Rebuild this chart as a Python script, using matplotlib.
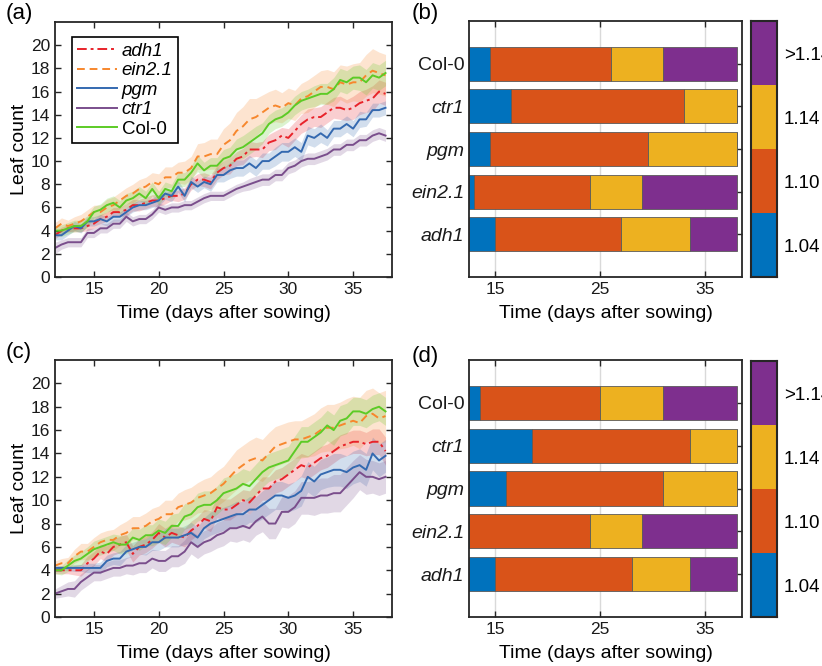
import numpy as np
import matplotlib
matplotlib.use("Agg")
import matplotlib.pyplot as plt
from matplotlib.colors import ListedColormap

plt.rcParams['font.family'] = ['Liberation Sans', 'DejaVu Sans']
plt.rcParams['font.size'] = 12

# ---------------- data ----------------
days = np.arange(12, 38, 0.5)   # sampling grid, 12 .. 37.5 days

# panel (a) means
adh1_a = [3.6, 4.0, 4.2, 4.2, 4.2, 4.4, 4.6, 5.0, 5.2, 5.6,
          5.6, 5.8, 6.2, 6.2, 6.4, 6.6, 6.6, 6.8, 7.0, 7.0,
          7.2, 8.0, 8.4, 8.4, 8.2, 9.0, 9.4, 9.6, 10.2, 10.4,
          11.0, 11.0, 11.0, 11.6, 11.8, 12.2, 12.0, 12.6, 13.2, 13.6,
          13.8, 13.8, 14.2, 14.6, 14.6, 14.4, 14.6, 15.0, 15.2, 15.4,
          16.0, 15.8]
ein_a = [4.2, 4.6, 4.4, 4.6, 4.8, 5.2, 5.6, 5.6, 6.0, 6.2,
         6.6, 7.0, 7.2, 7.6, 7.8, 8.2, 8.0, 8.6, 8.6, 9.0,
         9.0, 9.4, 10.4, 10.4, 10.6, 10.6, 11.4, 11.8, 12.6, 13.0,
         13.6, 13.8, 14.2, 14.6, 14.8, 14.6, 15.0, 14.8, 15.4, 15.6,
         16.0, 16.4, 16.4, 16.2, 16.8, 16.6, 16.8, 16.8, 17.4, 17.8,
         17.6, 17.4]
pgm_a = [3.6, 3.6, 4.0, 4.4, 4.2, 4.8, 4.8, 5.0, 4.8, 5.2,
         5.2, 5.6, 6.0, 6.2, 6.2, 6.4, 6.6, 7.2, 7.0, 7.8,
         7.0, 8.2, 7.8, 8.2, 8.0, 8.8, 8.8, 9.2, 9.4, 9.4,
         9.8, 9.4, 10.0, 10.0, 10.4, 10.8, 10.8, 11.2, 10.8, 12.2,
         12.0, 12.4, 12.0, 12.8, 12.8, 13.2, 12.8, 13.6, 13.6, 14.4,
         14.4, 14.6]
ctr1_a = [2.5, 2.8, 3.0, 3.0, 3.0, 3.8, 3.8, 4.2, 4.2, 4.6,
          4.6, 5.2, 4.8, 5.0, 5.0, 5.4, 6.0, 5.8, 6.0, 6.0,
          6.2, 6.2, 6.5, 6.8, 7.0, 7.0, 7.0, 7.3, 7.6, 7.8,
          8.0, 8.2, 8.4, 8.4, 8.8, 8.8, 9.4, 9.6, 10.0, 10.2,
          10.2, 10.4, 10.6, 11.0, 11.0, 11.4, 11.4, 11.8, 11.8, 12.2,
          12.4, 12.2]
col_a = [4.0, 4.0, 4.2, 4.4, 4.4, 4.8, 5.6, 5.8, 6.2, 6.4,
         6.0, 6.6, 6.8, 7.2, 6.8, 7.6, 6.8, 7.6, 7.4, 8.4,
         8.4, 9.0, 9.8, 9.2, 9.6, 9.6, 10.2, 10.4, 11.0, 11.2,
         11.6, 12.0, 12.4, 13.2, 13.6, 13.8, 14.2, 14.8, 15.2, 15.4,
         15.6, 15.8, 15.8, 16.2, 17.0, 16.8, 17.2, 17.2, 16.8, 17.4,
         17.2, 17.6]

# panel (a) band half-widths
sd_adh1_a = [0.3, 0.3, 0.3, 0.3, 0.3, 0.4, 0.4, 0.4, 0.4, 0.4,
             0.4, 0.5, 0.5, 0.5, 0.5, 0.5, 0.5, 0.5, 0.4, 0.5,
             0.5, 0.5, 0.5, 0.6, 0.6, 0.6, 0.6, 0.7, 0.6, 0.7,
             0.7, 0.6, 0.7, 0.7, 0.8, 0.7, 0.8, 0.8, 0.8, 0.9,
             0.8, 0.9, 0.9, 0.9, 1.0, 0.9, 1.0, 1.0, 1.0, 1.1,
             1.0, 1.0]
sd_ein_a = [0.5, 0.5, 0.5, 0.6, 0.6, 0.6, 0.6, 0.6, 0.7, 0.7,
            0.7, 0.7, 0.8, 0.8, 0.8, 0.8, 0.9, 0.9, 0.9, 0.9,
            1.0, 1.0, 1.1, 1.2, 1.3, 1.3, 1.4, 1.5, 1.6, 1.7,
            1.8, 1.6, 1.5, 1.4, 1.4, 1.3, 1.3, 1.3, 1.3, 1.4,
            1.4, 1.4, 1.5, 1.5, 1.5, 1.6, 1.6, 1.7, 1.8, 1.9,
            1.8, 1.8]
sd_pgm_a = [0.4, 0.4, 0.4, 0.4, 0.4, 0.4, 0.4, 0.4, 0.4, 0.4,
            0.4, 0.4, 0.4, 0.4, 0.4, 0.4, 0.5, 0.5, 0.5, 0.5,
            0.5, 0.5, 0.5, 0.5, 0.6, 0.6, 0.6, 0.7, 0.7, 0.7,
            0.7, 0.7, 0.7, 0.7, 0.8, 0.8, 0.8, 0.8, 0.8, 0.8,
            0.8, 0.8, 0.7, 0.7, 0.7, 0.7, 0.7, 0.7, 0.6, 0.6,
            0.6, 0.6]
sd_ctr1_a = [0.5, 0.4, 0.4, 0.4, 0.4, 0.4, 0.4, 0.4, 0.4, 0.4,
             0.4, 0.4, 0.4, 0.4, 0.4, 0.4, 0.4, 0.4, 0.4, 0.4,
             0.4, 0.4, 0.4, 0.4, 0.4, 0.4, 0.4, 0.4, 0.4, 0.4,
             0.5, 0.5, 0.5, 0.5, 0.5, 0.5, 0.5, 0.5, 0.5, 0.5,
             0.5, 0.5, 0.5, 0.5, 0.5, 0.5, 0.5, 0.5, 0.5, 0.5,
             0.5, 0.5]
sd_col_a = [0.4, 0.5, 0.5, 0.5, 0.5, 0.5, 0.5, 0.5, 0.6, 0.6,
            0.6, 0.6, 0.6, 0.6, 0.6, 0.6, 0.6, 0.6, 0.6, 0.6,
            0.6, 0.6, 0.7, 0.7, 0.7, 0.7, 0.8, 0.8, 0.9, 1.0,
            1.0, 1.0, 0.9, 0.8, 0.8, 0.8, 0.8, 0.8, 0.8, 0.8,
            0.9, 0.9, 0.9, 1.0, 1.0, 1.0, 1.0, 1.1, 1.1, 1.1,
            1.1, 1.1]

# panel (c) means
adh1_c = [4.0, 4.0, 4.0, 4.0, 4.0, 4.6, 5.0, 5.6, 5.4, 6.0,
          6.2, 6.4, 5.4, 6.0, 6.2, 6.6, 7.2, 6.8, 7.2, 7.0,
          6.8, 7.4, 7.8, 8.4, 8.2, 9.4, 9.2, 9.2, 9.6, 10.0,
          9.8, 10.4, 11.0, 11.0, 11.6, 11.8, 12.2, 12.6, 13.0, 12.8,
          13.2, 13.6, 13.8, 14.2, 14.6, 14.8, 15.0, 15.0, 14.8, 15.0,
          15.0, 14.2]
ein_c = [4.4, 4.6, 4.6, 5.2, 5.6, 5.6, 6.0, 6.4, 6.6, 6.6,
         7.0, 7.2, 7.6, 7.6, 7.8, 8.2, 8.4, 8.8, 8.8, 9.4,
         9.6, 9.8, 10.2, 10.4, 10.6, 11.0, 11.4, 12.0, 12.6, 13.0,
         13.4, 13.6, 13.4, 14.0, 14.6, 14.8, 15.0, 15.2, 15.2, 15.4,
         15.6, 16.0, 16.2, 16.2, 16.4, 16.6, 16.8, 16.6, 17.2, 17.4,
         17.0, 17.2]
pgm_c = [4.2, 4.2, 4.2, 4.2, 4.2, 4.2, 4.2, 4.2, 4.8, 5.0,
         5.0, 5.6, 5.8, 6.0, 6.0, 6.4, 6.4, 6.8, 6.8, 6.8,
         7.0, 7.2, 6.8, 7.6, 8.0, 8.2, 8.4, 8.6, 8.8, 8.8,
         9.2, 9.2, 9.6, 10.0, 10.4, 10.4, 10.2, 10.4, 10.8, 12.0,
         11.6, 12.2, 12.4, 12.6, 12.6, 12.4, 12.8, 13.0, 12.6, 14.0,
         13.4, 13.8]
ctr1_c = [2.0, 2.2, 2.4, 2.4, 3.0, 3.4, 3.8, 3.8, 4.0, 4.2,
          4.2, 4.4, 4.4, 4.6, 4.6, 5.0, 4.8, 4.8, 5.2, 5.2,
          5.6, 6.4, 6.0, 6.4, 6.6, 7.0, 7.2, 7.6, 7.6, 7.8,
          7.6, 8.2, 8.6, 8.0, 8.0, 9.0, 9.0, 9.4, 10.2, 10.2,
          10.2, 10.4, 10.4, 10.6, 10.6, 11.2, 11.8, 12.4, 12.0, 12.0,
          11.8, 12.0]
col_c = [4.0, 4.0, 4.4, 4.8, 5.0, 5.4, 5.8, 6.0, 6.2, 6.4,
         6.2, 6.2, 6.8, 6.6, 7.0, 7.0, 7.4, 7.2, 7.8, 7.8,
         8.6, 8.8, 9.4, 9.6, 9.6, 10.0, 10.6, 10.8, 11.0, 11.4,
         11.2, 11.8, 12.4, 12.8, 13.0, 13.2, 13.4, 14.2, 15.0, 15.0,
         15.4, 15.8, 16.4, 16.0, 16.8, 17.0, 17.6, 17.6, 17.4, 17.8,
         18.0, 17.6]

# panel (c) band half-widths
sd_adh1_c = [0.3, 0.3, 0.3, 0.4, 0.5, 0.6, 0.6, 0.6, 0.7, 0.7,
             0.7, 0.7, 0.7, 0.7, 0.7, 0.7, 0.8, 0.8, 0.8, 0.8,
             0.8, 0.8, 0.8, 0.8, 0.9, 0.9, 0.9, 0.9, 0.9, 0.9,
             1.0, 1.0, 1.0, 1.0, 1.0, 1.0, 1.0, 1.0, 1.0, 1.0,
             1.0, 1.0, 1.0, 1.0, 1.0, 1.0, 1.0, 1.0, 1.0, 1.1,
             1.1, 1.2]
sd_ein_c = [0.4, 0.4, 0.5, 0.6, 0.7, 0.7, 0.8, 0.8, 0.8, 0.9,
            0.9, 1.0, 1.0, 1.0, 1.1, 1.1, 1.1, 1.2, 1.2, 1.2,
            1.3, 1.3, 1.3, 1.4, 1.4, 1.5, 1.5, 1.6, 1.7, 1.7,
            1.7, 1.8, 1.8, 1.8, 1.7, 1.7, 1.7, 1.6, 1.6, 1.7,
            1.8, 1.9, 2.0, 2.0, 2.0, 2.1, 2.1, 2.2, 2.2, 2.2,
            2.2, 2.2]
sd_pgm_c = [0.2, 0.2, 0.2, 0.3, 0.3, 0.4, 0.4, 0.5, 0.5, 0.5,
            0.6, 0.6, 0.6, 0.6, 0.7, 0.7, 0.7, 0.8, 0.8, 0.8,
            0.8, 0.9, 0.9, 0.9, 1.0, 1.0, 1.0, 1.0, 1.1, 1.1,
            1.1, 1.1, 1.2, 1.2, 1.2, 1.2, 1.2, 1.2, 1.3, 1.3,
            1.3, 1.3, 1.3, 1.4, 1.4, 1.4, 1.4, 1.4, 1.4, 1.4,
            1.4, 1.4]
sd_ctr1_c = [0.4, 0.5, 0.6, 0.7, 0.7, 0.7, 0.7, 0.7, 0.7, 0.7,
             0.7, 0.7, 0.8, 0.8, 0.8, 0.8, 0.9, 0.9, 0.9, 0.9,
             1.0, 1.0, 1.0, 1.0, 1.0, 1.1, 1.1, 1.1, 1.2, 1.2,
             1.2, 1.2, 1.3, 1.3, 1.3, 1.3, 1.4, 1.4, 1.4, 1.4,
             1.5, 1.5, 1.5, 1.6, 1.6, 1.6, 1.6, 1.5, 1.5, 1.4,
             1.4, 1.4]
sd_col_c = [0.3, 0.4, 0.5, 0.5, 0.6, 0.6, 0.7, 0.7, 0.7, 0.7,
            0.8, 0.8, 0.8, 0.9, 0.9, 0.9, 1.0, 1.0, 1.0, 1.1,
            1.1, 1.1, 1.2, 1.2, 1.2, 1.2, 1.3, 1.3, 1.3, 1.3,
            1.3, 1.3, 1.3, 1.2, 1.2, 1.2, 1.2, 1.3, 1.3, 1.3,
            1.3, 1.3, 1.3, 1.3, 1.3, 1.3, 1.2, 1.2, 1.2, 1.2,
            1.2, 1.2]

# stage bars: genotypes top -> bottom, end day of each growth-rate stage
genotypes = ['Col-0', 'ctr1', 'pgm', 'ein2.1', 'adh1']
bar_start = 12.5
b_stage_ends = [[14.5, 16.5, 14.5, 13.0, 15.0],    # 1.04
                [26.0, 33.0, 29.5, 24.0, 27.0],    # 1.10
                [31.0, 38.0, 38.0, 29.0, 33.5],    # 1.14
                [38.0, 38.0, 38.0, 38.0, 38.0]]    # >1.14
d_stage_ends = [[13.5, 18.5, 16.0, 12.5, 15.0],
                [25.0, 33.5, 31.0, 24.0, 28.0],
                [31.0, 38.0, 38.0, 29.0, 33.5],
                [38.0, 38.0, 38.0, 38.0, 38.0]]
stage_labels = ['1.04', '1.10', '1.14', '>1.14']
stage_colors = ['#0072BD', '#D95319', '#EDB120', '#7E2F8E']

# ---------------- styling ----------------
series_style = [
    ('adh1',   '#E8232A', (0, (5, 2, 1.5, 2)), True),
    ('ein2.1', '#F7872D', (0, (4, 2.5)),       True),
    ('pgm',    '#3469B0', '-',                 True),
    ('ctr1',   '#7A4E8C', '-',                 True),
    ('Col-0',  '#5CCB26', '-',                 False),
]
axcol = '#262626'


def style_box(ax):
    for s in ax.spines.values():
        s.set_linewidth(1.3)
        s.set_color(axcol)
    ax.tick_params(direction='in', top=True, right=True, length=4,
                   width=1.0, color=axcol, labelsize=12.5, labelcolor='#1a1a1a')


def line_panel(ax, means, sds, legend=False):
    for (name, col, ls, ital), m, sd in zip(series_style, means, sds):
        m = np.array(m)
        sd = np.array(sd)
        ax.fill_between(days, m - sd, m + sd, color=col, alpha=0.22, lw=0)
    handles = []
    for (name, col, ls, ital), m in zip(series_style, means):
        h, = ax.plot(days, m, color=col, ls=ls, lw=1.4, label=name)
        handles.append(h)
    ax.set_xlim(12, 38)
    ax.set_ylim(0, 22)
    ax.set_xticks([15, 20, 25, 30, 35])
    ax.set_yticks(np.arange(0, 21, 2))
    ax.set_xlabel('Time (days after sowing)', fontsize=14, labelpad=6)
    ax.set_ylabel('Leaf count', fontsize=14, labelpad=2)
    style_box(ax)
    if legend:
        leg = ax.legend(handles=handles, loc='upper left',
                        bbox_to_anchor=(0.05, 0.94), fancybox=False,
                        edgecolor='black', framealpha=1, fontsize=13.5,
                        handlelength=2.1, handletextpad=0.25,
                        labelspacing=0.12, borderpad=0.3, borderaxespad=0)
        leg.get_frame().set_linewidth(1.2)
        for t, st in zip(leg.get_texts(), series_style):
            if st[3]:
                t.set_style('italic')


def bar_panel(ax, cax, stage_ends):
    ypos = np.arange(len(genotypes), 0, -1)
    left = np.full(len(genotypes), bar_start)
    for ends, col in zip(stage_ends, stage_colors):
        ends = np.array(ends)
        width = ends - left
        ax.barh(ypos, width, left=left, height=0.8, color=col,
                edgecolor='#5a5a5a', linewidth=0.6, zorder=2)
        left = ends
    ax.set_xlim(12.5, 38.5)
    ax.set_ylim(0, 6)
    ax.set_xticks([15, 25, 35])
    ax.set_yticks(ypos)
    ax.set_yticklabels(genotypes)
    for t in ax.get_yticklabels():
        if t.get_text() != 'Col-0':
            t.set_style('italic')
    ax.grid(axis='x', color='#d9d9d9', lw=1.0, zorder=0)
    ax.set_axisbelow(True)
    ax.set_xlabel('Time (days after sowing)', fontsize=14, labelpad=6)
    style_box(ax)
    ax.tick_params(axis='y', labelsize=14)

    # discrete colour key
    cax.imshow(np.arange(4)[::-1].reshape(-1, 1), aspect='auto',
               cmap=ListedColormap(stage_colors), extent=(0, 1, 0, 4))
    cax.set_xticks([])
    cax.yaxis.tick_right()
    cax.set_yticks(np.arange(4) + 0.5)
    cax.set_yticklabels(stage_labels)
    cax.tick_params(axis='y', length=0, labelsize=13.5, pad=5)
    for s in cax.spines.values():
        s.set_linewidth(1.5)
        s.set_color(axcol)


fig = plt.figure(figsize=(8.22, 6.66), dpi=100)
W, H = 822.0, 666.0


def add(l, t, r, b):
    return fig.add_axes([l / W, 1 - b / H, (r - l) / W, (b - t) / H])


ax_a = add(55, 22, 392, 277)
ax_c = add(55, 360, 392, 617)
ax_b = add(469, 21, 742, 277)
ax_d = add(469, 360, 742, 617)
cax_b = add(751, 21, 777, 277)
cax_d = add(751, 361, 777, 617)

line_panel(ax_a, [adh1_a, ein_a, pgm_a, ctr1_a, col_a],
           [sd_adh1_a, sd_ein_a, sd_pgm_a, sd_ctr1_a, sd_col_a], legend=True)
line_panel(ax_c, [adh1_c, ein_c, pgm_c, ctr1_c, col_c],
           [sd_adh1_c, sd_ein_c, sd_pgm_c, sd_ctr1_c, sd_col_c])
bar_panel(ax_b, cax_b, b_stage_ends)
bar_panel(ax_d, cax_d, d_stage_ends)

for lab, x, y in [('(a)', 6, 3), ('(b)', 412, 3), ('(c)', 6, 342), ('(d)', 412, 346)]:
    fig.text(x / W, 1 - y / H, lab, fontsize=16, ha='left', va='top')

fig.savefig('out.png', dpi=100)
